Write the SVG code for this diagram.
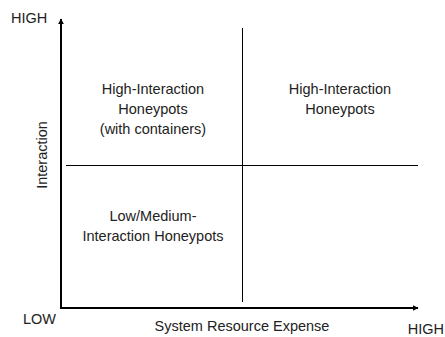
<svg xmlns="http://www.w3.org/2000/svg" width="445" height="337" viewBox="0 0 445 337">
<style>
text{font-family:"Liberation Sans",Arial,sans-serif;font-size:14.5px;fill:#222}
.m{text-anchor:middle}
.e{text-anchor:end}
.ax{stroke:#000;stroke-width:2;fill:none}
.dv{stroke:#000;stroke-width:1;fill:none}
</style>
<defs>
<marker id="ah" viewBox="0 0 10 10" refX="9" refY="5" markerWidth="6" markerHeight="6" markerUnits="userSpaceOnUse" orient="auto">
<path d="M0,0 L10,5 L0,10 z" fill="#000"/>
</marker>
</defs>
<rect width="445" height="337" fill="#fff"/>
<g id="connectors">
<path class="ax" d="M61,308 L61,19" marker-end="url(#ah)"/>
<path class="ax" d="M60,308 L418,308" marker-end="url(#ah)"/>
<path class="dv" d="M242.5,28 L242.5,302"/>
<path class="dv" d="M66,165.5 L418,165.5"/>
</g>
<g id="axis-labels">
<text x="11" y="23">HIGH</text>
<text x="23" y="324">LOW</text>
<text class="e" x="444" y="334">HIGH</text>
<text class="m" x="242" y="331">System Resource Expense</text>
<text class="m" transform="translate(47,155) rotate(-90)">Interaction</text>
</g>
<g id="q-top-left">
<text class="m" x="153" y="94">High-Interaction</text>
<text class="m" x="153" y="114">Honeypots</text>
<text class="m" x="153" y="134">(with containers)</text>
</g>
<g id="q-top-right">
<text class="m" x="340" y="94">High-Interaction</text>
<text class="m" x="340" y="114">Honeypots</text>
</g>
<g id="q-bottom-left">
<text class="m" x="153" y="221">Low/Medium-</text>
<text class="m" x="153" y="241">Interaction Honeypots</text>
</g>
</svg>
